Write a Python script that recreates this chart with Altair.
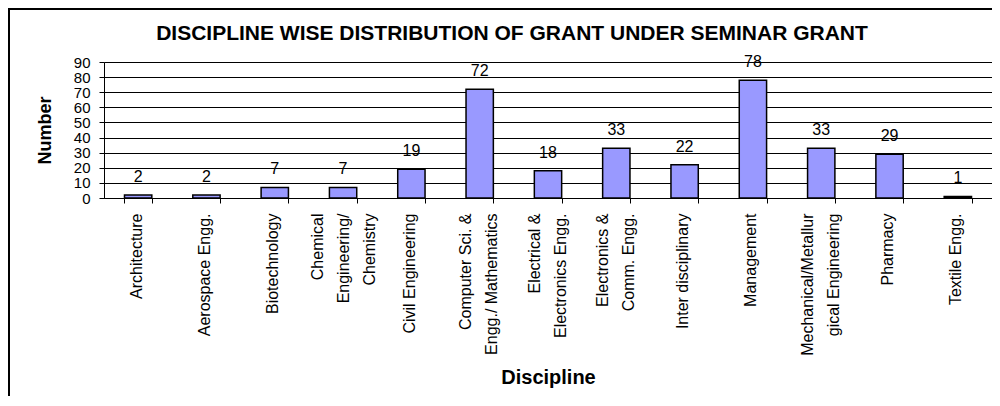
import altair as alt
import pandas as pd

categories = [
    "Architecture",
    "Aerospace Engg.",
    "Biotechnology",
    "Chemical\nEngineering/\nChemistry",
    "Civil Engineering",
    "Computer Sci. &\nEngg./ Mathematics",
    "Electrical &\nElectronics Engg.",
    "Electronics &\nComm. Engg.",
    "Inter disciplinary",
    "Management",
    "Mechanical/Metallur\ngical  Engineering",
    "Pharmacy",
    "Textile Engg.",
]
values = [2, 2, 7, 7, 19, 72, 18, 33, 22, 78, 33, 29, 1]
y_ticks = [0, 10, 20, 30, 40, 50, 60, 70, 80, 90]

df = pd.DataFrame({"Discipline": categories, "Number": values})

FONT = "Liberation Sans"
NLINES = "length(split(datum.label, '\\n'))"

x_enc = alt.X(
    "Discipline:N",
    sort=categories,
    scale=alt.Scale(paddingInner=0.6, paddingOuter=0.3),
    axis=alt.Axis(
        title="Discipline",
        titleFont=FONT,
        titleFontSize=20,
        titleFontWeight="bold",
        titleColor="black",
        titleBaseline="middle",
        titleY=179,
        labelExpr="split(datum.label, '\\n')",
        labelAngle=270,
        labelAlign="right",
        labelBaseline="middle",
        labelPadding=10,
        labelOffset={
            "condition": [
                {"test": NLINES + " == 3", "value": -26},
                {"test": NLINES + " == 2", "value": -14},
            ],
            "value": -2,
        },
        labelFont=FONT,
        labelFontSize=16,
        labelLineHeight=26,
        labelColor="black",
        labelLimit=400,
        labelOverlap=False,
        tickBand="extent",
        tickSize=5,
        tickColor="black",
        domainColor="black",
        domainWidth=1,
        grid=False,
    ),
)

y_enc = alt.Y(
    "Number:Q",
    scale=alt.Scale(domain=[0, 90], nice=False),
    axis=alt.Axis(
        title="Number",
        titleFont=FONT,
        titleFontSize=18,
        titleFontWeight="bold",
        titleColor="black",
        titleAngle=270,
        titleAlign="center",
        titleBaseline="middle",
        titleX=-59,
        titleY=68,
        values=y_ticks,
        labelOverlap=False,
        labelFont=FONT,
        labelFontSize=15,
        labelColor="black",
        labelPadding=9,
        tickSize=5,
        tickColor="black",
        domainColor="black",
        grid=True,
        gridColor="black",
        gridWidth=1,
    ),
)

border = alt.Chart(df).mark_rect(
    fillOpacity=0, stroke="black", strokeWidth=2
).encode(
    x=alt.value(-95), x2=alt.value(3000), y=alt.value(-53), y2=alt.value(3000)
)

bars = alt.Chart(df).mark_bar(
    color="#9999ff", stroke="black", strokeWidth=1.5
).encode(x=x_enc, y=y_enc)

labels = alt.Chart(df).mark_text(
    font=FONT, fontSize=16, color="black", baseline="alphabetic", dy=-13
).encode(
    x=x_enc,
    y=y_enc,
    text="Number:Q",
)

chart = alt.layer(bars, labels, border).properties(
    width=888,
    height=136,
    autosize=alt.AutoSizeParams(type="none"),
    padding={"left": 96, "top": 54, "right": 0, "bottom": 198},
    title=alt.TitleParams(
        text="DISCIPLINE WISE DISTRIBUTION OF GRANT UNDER SEMINAR GRANT",
        font=FONT,
        fontSize=21,
        fontWeight="bold",
        color="black",
        anchor="middle",
        frame="group",
        dx=-36,
        dy=44,
        offset=8,
    ),
).configure_view(
    fill="#c0c0c0", stroke="#808080", strokeWidth=1
).configure(background="white")

chart.save("out.html", embed_options={"renderer": "svg", "actions": False})
